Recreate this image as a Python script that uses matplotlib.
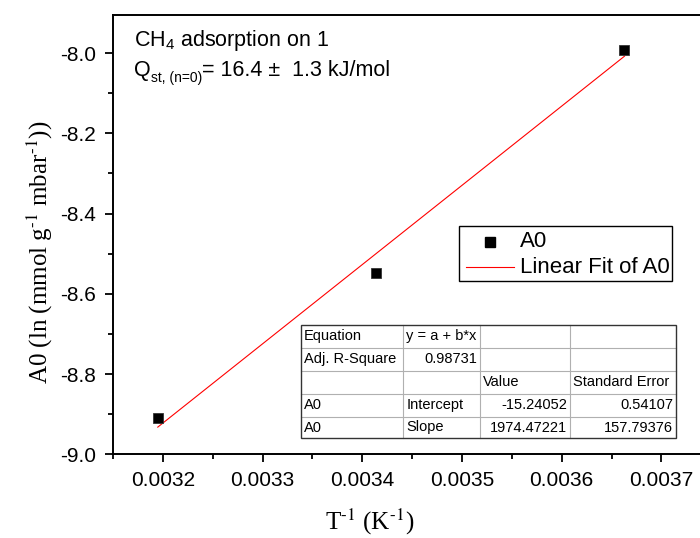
import matplotlib
matplotlib.use("Agg")
import matplotlib.pyplot as plt
from matplotlib.ticker import MultipleLocator, FormatStrFormatter
import numpy as np

plt.rcParams['font.family'] = ['Liberation Sans', 'DejaVu Sans']
plt.rcParams['mathtext.fontset'] = 'custom'
plt.rcParams['mathtext.rm'] = 'Liberation Sans'
plt.rcParams['mathtext.it'] = 'Liberation Sans:italic'
plt.rcParams['mathtext.bf'] = 'Liberation Sans:bold'

# Inverse temperature (1/K) and A0 virial coefficient
inv_T = [0.0031949, 0.0034136, 0.0036630]
a0 = [-8.910, -8.547, -7.992]

# Linear fit results
intercept = -15.24052
slope = 1974.47221
fit_table = [
    ["Equation", "y = a + b*x", "", ""],
    ["Adj. R-Square", "0.98731", "", ""],
    ["", "", "Value", "Standard Error"],
    ["A0", "Intercept", "-15.24052", "0.54107"],
    ["A0", "Slope", "1974.47221", "157.79376"],
]
x_ticks = [0.0032, 0.0033, 0.0034, 0.0035, 0.0036, 0.0037]
y_ticks = [-9.0, -8.8, -8.6, -8.4, -8.2, -8.0]

W, H = 700, 538
fig = plt.figure(figsize=(W / 100, H / 100), dpi=100)

# axes placed in pixel units; the right part runs past the figure edge
x0, x1 = 0.00315, 0.00375
px_per_x = 99.7 / 0.0001
y0, y1 = -9.0, -7.905
px_per_y = 401.3
left_px = 113
bottom_px = H - 454.3
ax = fig.add_axes([left_px / W, bottom_px / H,
                   (x1 - x0) * px_per_x / W, (y1 - y0) * px_per_y / H])

ax.plot(inv_T, a0, 's', color='black', ms=7, mec='#333333', mew=0.6,
        label='A0', zorder=3)
xf = np.array([min(inv_T), max(inv_T)])
ax.plot(xf, intercept + slope * xf, '-', color='red', lw=0.8,
        label='Linear Fit of A0', zorder=2)

ax.set_xlim(x0, x1)
ax.set_ylim(y0, y1)
ax.set_xticks(x_ticks)
ax.set_yticks(y_ticks)
ax.xaxis.set_major_formatter(FormatStrFormatter('%.4f'))
ax.yaxis.set_major_formatter(FormatStrFormatter('%.1f'))
ax.xaxis.set_minor_locator(MultipleLocator(0.00005))
ax.yaxis.set_minor_locator(MultipleLocator(0.1))
ax.tick_params(which='major', direction='out', length=6, width=1.3,
               labelsize=15, pad=6)
ax.tick_params(which='minor', direction='out', length=3.5, width=1.3)
ax.tick_params(top=False, right=False)
for sp in ax.spines.values():
    sp.set_linewidth(1.4)
ax.spines['right'].set_visible(False)

# overlay in pixel coordinates for annotations
ov = fig.add_axes([0, 0, 1, 1], facecolor='none')
ov.set_xlim(0, W)
ov.set_ylim(H, 0)
ov.axis('off')

# axis titles
ov.text(370, 522, r"T$^{\text{-}1}$ (K$^{\text{-}1}$)", ha='center', va='center',
        fontsize=18, family='Liberation Serif', math_fontfamily='stix')
ov.text(40, 252, r"A0 (ln (mmol g$^{\text{-}1}$ mbar$^{\text{-}1}$))",
        ha='center', va='center', rotation=90, fontsize=18,
        family='Liberation Serif', math_fontfamily='stix')

# header text
ov.text(134, 46, r"CH$_{\mathrm{4}}$ adsorption on 1", fontsize=15.5,
        ha='left', va='baseline')

renderer = fig.canvas.get_renderer()

def text_run(x, y, s, size):
    t = ov.text(x, y, s, fontsize=size, ha='left', va='baseline')
    return x + t.get_window_extent(renderer=renderer).width

xq = text_run(134, 76, "Q", 15.5)
xq = text_run(xq, 82, "st, (n=0)", 10)
text_run(xq, 76, "= 16.4 \u00b1  1.3 kJ/mol", 15.5)

# legend
ov.add_patch(plt.Rectangle((459, 225.7), 213, 55.3, fill=False,
                           ec='black', lw=1.0))
ov.plot([490], [241.7], 's', color='black', ms=7)
ov.plot([466, 514], [267.3, 267.3], '-', color='red', lw=0.8)
ov.text(520, 241.7, "A0", fontsize=16, ha='left', va='center')
ov.text(520, 267.3, "Linear Fit of A0", fontsize=16, ha='left', va='center')

# fit result table
col_edges = [300.7, 403.3, 480, 570, 676]
row_edges = [325, 347.7, 371, 394, 416.7, 438.3]
ov.add_patch(plt.Rectangle((col_edges[0], row_edges[0]),
                           col_edges[-1] - col_edges[0],
                           row_edges[-1] - row_edges[0],
                           fc='white', ec='none', zorder=1))
for xe in col_edges[1:-1]:
    ov.plot([xe, xe], [row_edges[0], row_edges[-1]], color='#b0b0b0', lw=0.8, zorder=2)
for ye in row_edges[1:-1]:
    ov.plot([col_edges[0], col_edges[-1]], [ye, ye], color='#b0b0b0', lw=0.8, zorder=2)
ov.add_patch(plt.Rectangle((col_edges[0], row_edges[0]),
                           col_edges[-1] - col_edges[0],
                           row_edges[-1] - row_edges[0],
                           fill=False, ec='#333333', lw=1.0, zorder=3))

def is_number(s):
    try:
        float(s)
        return True
    except ValueError:
        return False

for r, row in enumerate(fit_table):
    yc = (row_edges[r] + row_edges[r + 1]) / 2
    for c, txt in enumerate(row):
        if not txt:
            continue
        if is_number(txt):
            ov.text(col_edges[c + 1] - 3, yc, txt, fontsize=10.5,
                    ha='right', va='center', zorder=4)
        else:
            ov.text(col_edges[c] + 3, yc, txt, fontsize=10.5,
                    ha='left', va='center', zorder=4)

fig.savefig("out.png", dpi=100)
